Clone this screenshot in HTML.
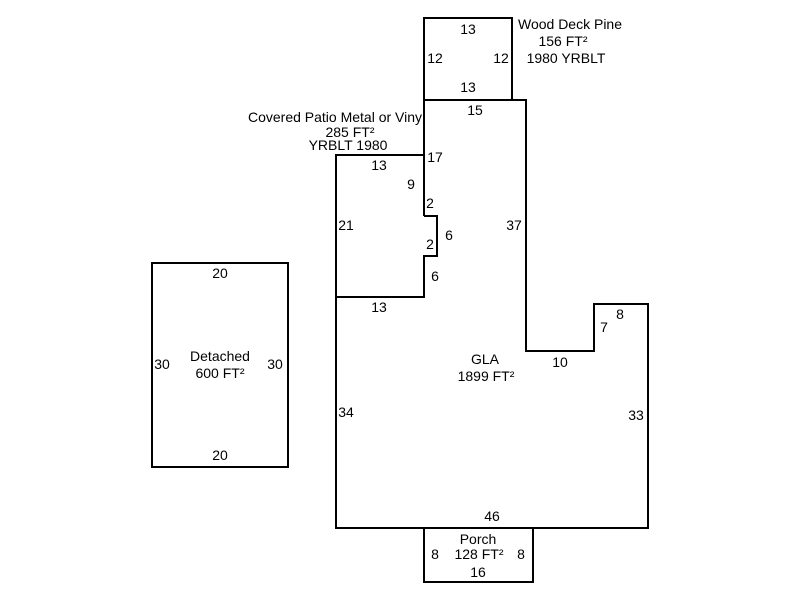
<!DOCTYPE html>
<html><head><meta charset="utf-8"><style>
html,body{margin:0;padding:0;background:#fff;width:800px;height:600px;overflow:hidden}
text{font-family:"Liberation Sans",Arial,sans-serif;font-size:14px;fill:#000}
</style></head><body>
<svg width="800" height="600" viewBox="0 0 800 600" xmlns="http://www.w3.org/2000/svg">
<g fill="none" stroke="#000" stroke-width="2">
<rect x="424" y="18" width="88" height="82"/>
<polyline points="424,216 424,100 526,100 526,351 594,351 594,304 648,304 648,528 336,528 336,297 424,297 424,256 437,256 437,216 424,216"/>
<polyline points="424,155 336,155 336,297"/>
<rect x="152" y="263" width="136" height="204"/>
<rect x="424" y="528" width="109" height="54"/>
</g>
<g text-anchor="middle">
<text x="468" y="34">13</text>
<text x="435" y="63">12</text>
<text x="501" y="63">12</text>
<text x="468" y="92">13</text>
<text x="570" y="29">Wood Deck Pine</text>
<text x="563" y="46">156 FT²</text>
<text x="566" y="63">1980 YRBLT</text>
<text x="475" y="115">15</text>
<text x="335" y="122">Covered Patio Metal or Viny</text>
<text x="350" y="137">285 FT²</text>
<text x="348" y="150">YRBLT 1980</text>
<text x="379" y="170">13</text>
<text x="435" y="162">17</text>
<text x="411" y="189">9</text>
<text x="430" y="208">2</text>
<text x="346" y="230">21</text>
<text x="449" y="240">6</text>
<text x="430" y="249">2</text>
<text x="514" y="230">37</text>
<text x="435" y="281">6</text>
<text x="379" y="312">13</text>
<text x="620" y="319">8</text>
<text x="604" y="332">7</text>
<text x="560" y="367">10</text>
<text x="485" y="364">GLA</text>
<text x="486" y="381">1899 FT²</text>
<text x="346" y="417">34</text>
<text x="636" y="420">33</text>
<text x="492" y="521">46</text>
<text x="478" y="544">Porch</text>
<text x="479" y="559">128 FT²</text>
<text x="435" y="559">8</text>
<text x="521" y="559">8</text>
<text x="478" y="577">16</text>
<text x="220" y="278">20</text>
<text x="162" y="369">30</text>
<text x="275" y="369">30</text>
<text x="220" y="361">Detached</text>
<text x="220" y="378">600 FT²</text>
<text x="220" y="460">20</text>
</g>
</svg>
</body></html>
